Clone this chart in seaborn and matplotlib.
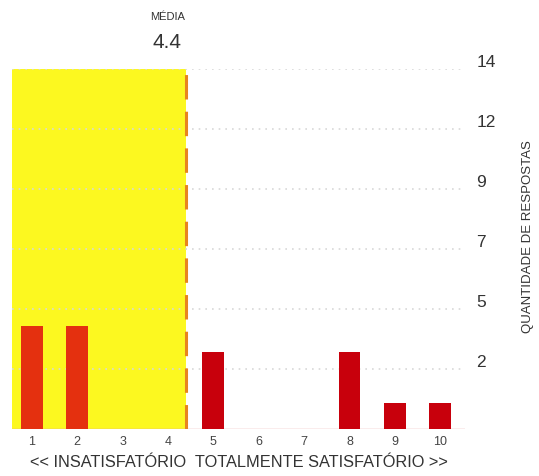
import numpy as np
import pandas as pd
import matplotlib
matplotlib.use('Agg')
import matplotlib.pyplot as plt
import seaborn as sns

# data
scores = [1, 2, 3, 4, 5, 6, 7, 8, 9, 10]
counts = [4, 4, 0, 0, 3, 0, 0, 3, 1, 1]
ytick_vals = [14 / 6 * i for i in range(1, 7)]
ytick_labels = ['2', '5', '7', '9', '12', '14']
media = 4.4

sns.set_style('white')
plt.rcParams['font.family'] = ['Liberation Sans', 'DejaVu Sans']

df = pd.DataFrame({'nota': scores, 'respostas': counts})
df['lado'] = np.where(df['nota'] < media, 'abaixo', 'acima')

fig = plt.figure(figsize=(5.39, 4.77), dpi=100)
ax = fig.add_axes([0.022, 0.0985, 0.841, 0.755])

# yellow band up to the mean
ax.axvspan(0.56, media, color='#fcf820', zorder=0, lw=0)

sns.barplot(data=df, x='nota', y='respostas', hue='lado', native_scale=True,
            palette={'abaixo': '#e4300f', 'acima': '#c8000c'}, dodge=False,
            width=0.48, legend=False, ax=ax, zorder=3, saturation=1,
            linewidth=0, edgecolor='none')

ax.axvline(media, color='#e8841e', lw=2.2, ls=(0, (8, 4)), zorder=4)
ax.axhline(0, color='#e8a0a0', lw=1, zorder=2)

ax.set_xlim(0.56, 10.55)
ax.set_ylim(0, 14)
ax.set_yticks(ytick_vals)
ax.set_yticklabels(ytick_labels, fontsize=12.5, color='#333333')
ax.yaxis.tick_right()
for t in ax.get_yticklabels():
    t.set_va('bottom')
ax.set_xticks(scores)
ax.set_xticklabels([str(s) for s in scores], fontsize=9, color='#444444')
ax.tick_params(axis='x', length=0, pad=4)
ax.tick_params(axis='y', length=0, pad=8)

ax.grid(axis='y', color='#d8d8d8', ls=(0, (1, 3)), lw=1.2, zorder=1)
ax.set_axisbelow(False)
for s in ax.spines.values():
    s.set_visible(False)

ax.set_xlabel('<< INSATISFATÓRIO  TOTALMENTE SATISFATÓRIO >>', fontsize=11.8,
              color='#333333', labelpad=5)
ax.set_ylabel('')
fig.text(0.99, 0.505, 'QUANTIDADE DE RESPOSTAS', rotation=90, fontsize=9.5,
         color='#333333', ha='right', va='center')

fig.text(0.31, 0.965, 'MÉDIA', fontsize=8, color='#333333', ha='center', va='center')
fig.text(0.31, 0.91, f'{media:.1f}', fontsize=15, color='#333333', ha='center',
         va='center', fontweight='medium')

fig.savefig('out.png', dpi=100)
